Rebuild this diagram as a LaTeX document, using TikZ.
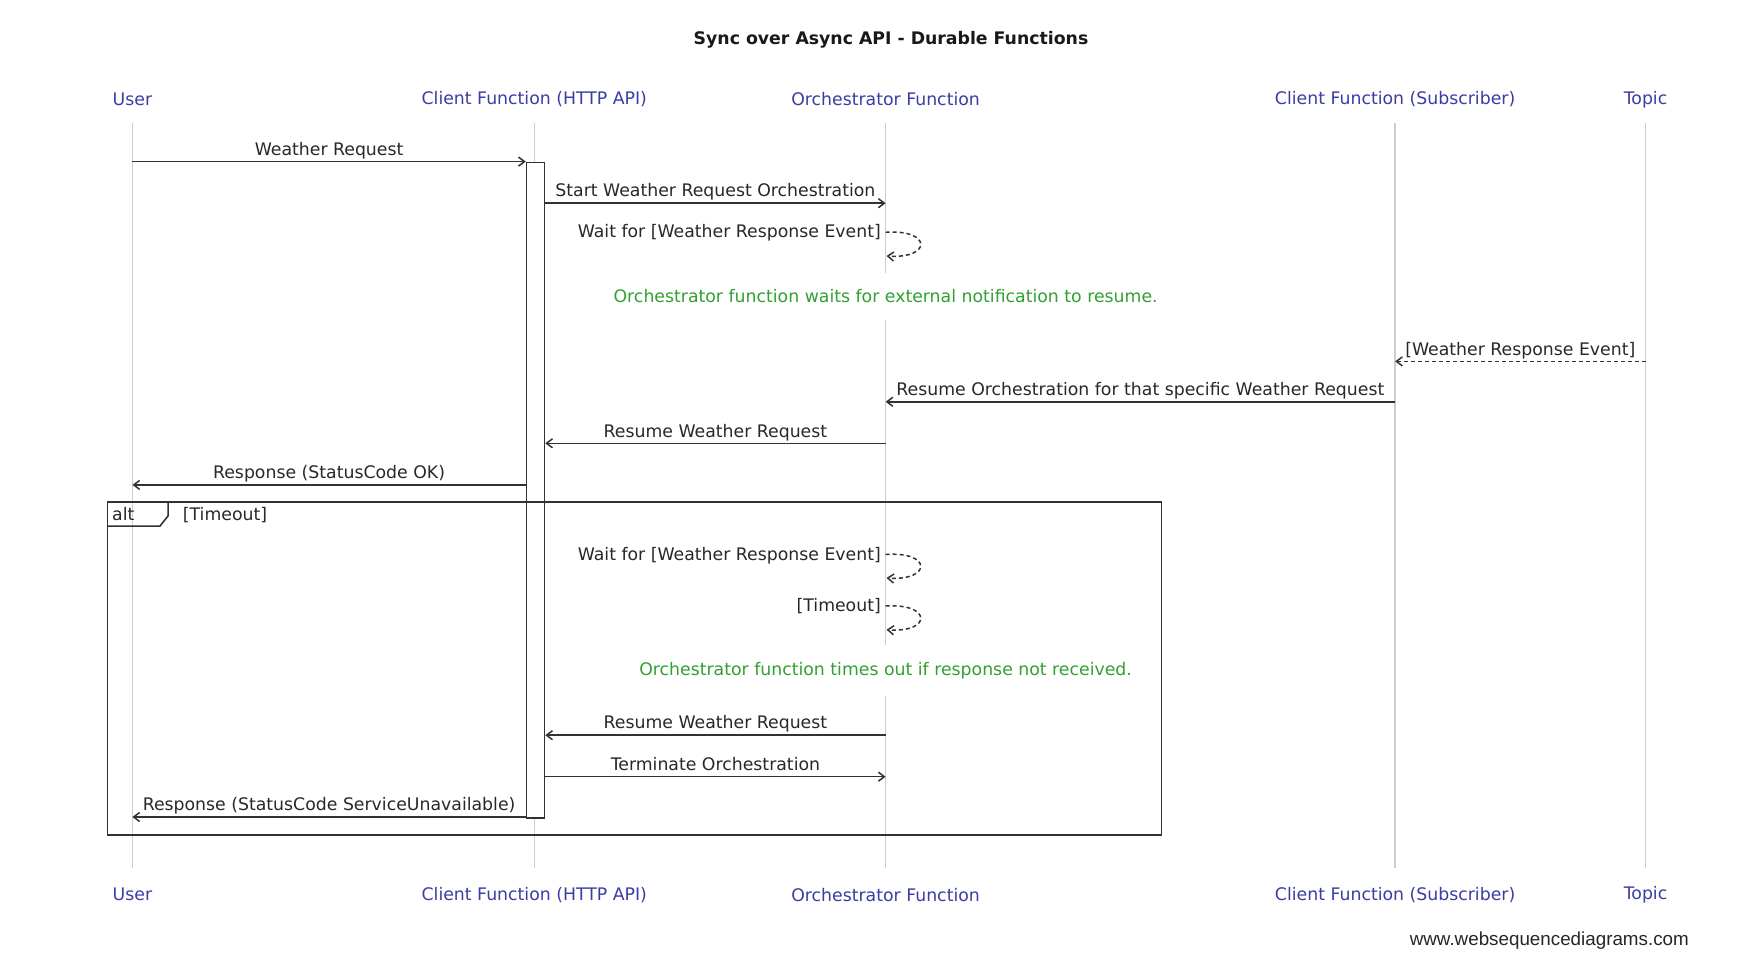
\documentclass[tikz,border=0pt]{standalone}
\usepackage{fontspec}
\setmainfont{DejaVu Sans}
\newfontfamily\footfont{Liberation Sans}
\usetikzlibrary{arrows.meta}
\definecolor{part}{RGB}{60,60,165}
\definecolor{life}{RGB}{205,205,205}
\definecolor{ln}{RGB}{50,50,50}
\definecolor{notegreen}{RGB}{50,160,50}
\definecolor{txt}{RGB}{40,40,40}
\begin{document}
\begin{tikzpicture}[x=1pt,y=-1pt,
  lbl/.style={font=\fontsize{17.3}{20}\selectfont, text=txt, inner sep=0pt, text height=12.5pt, text depth=3.5pt},
  partlbl/.style={font=\fontsize{17.3}{20}\selectfont, text=part, inner sep=0pt},
  lifeline/.style={draw=life, line width=1.3pt},
  msg/.style={draw=ln, line width=1.5pt, -{Straight Barb[length=6pt,width=9pt]}},
  dmsg/.style={msg, dash pattern=on 4pt off 3pt},
  notetext/.style={font=\fontsize{17.3}{20}\selectfont, text=notegreen, fill=white, inner xsep=12pt, inner ysep=0pt},
  framebox/.style={draw=ln, line width=1.5pt},
  mlabel/.style={lbl, midway, yshift=10.8pt}
]
\useasboundingbox[fill=white] (0,0) rectangle (1760,965);

% title
\node[font=\bfseries\fontsize{17.3}{20}\selectfont, text=black!90] (title) at (891,39.5) {Sync over Async API - Durable Functions};

% participants (top and bottom)
\foreach \n/\x/\t in {u/132.4/User, c/534.3/Client Function (HTTP API), o/885.6/Orchestrator Function, s/1395.1/Client Function (Subscriber), t/1645.5/Topic}{
  \node[partlbl] (\n top) at (\x,99.3) {\t};
  \node[partlbl] (\n bot) at (\x,894.7) {\t};
  \coordinate (\n1) at (\x,123.5);
  \coordinate (\n2) at (\x,867.6);
  \draw[lifeline] (\n1) -- (\n2);
}

% activation box of client function
\node[draw=ln, fill=white, line width=1.5pt, minimum width=18pt, minimum height=655.4pt, inner sep=0pt, anchor=north] (act) at (535.5,161.6) {};

% notes (white boxes hide the lifeline)
\node[notetext, minimum height=47pt] (n1) at (885.6,296.5) {Orchestrator function waits for external notification to resume.};
\node[notetext, minimum height=51pt] (n2) at (885.6,670.5) {Orchestrator function times out if response not received.};

% message anchor points
\coordinate (ma) at (132.4,161.6);
\coordinate (mb) at (885.6,203.2);
\coordinate (mc1) at (885.6,232.3);
\coordinate (mc2) at (886.5,256.0);
\coordinate (md1) at (1645.5,361.4);
\coordinate (md2) at (1395.1,361.4);
\coordinate (me1) at (1395.1,401.8);
\coordinate (me2) at (885.6,401.8);
\coordinate (mf) at (885.6,443.3);
\coordinate (mg) at (132.4,484.9);
\coordinate (mh1) at (885.6,554.5);
\coordinate (mh2) at (886.5,578.0);
\coordinate (mi1) at (885.6,606.0);
\coordinate (mi2) at (886.5,629.7);
\coordinate (mj) at (885.6,735.2);
\coordinate (mk) at (885.6,776.7);
\coordinate (ml) at (132.4,817.0);

% messages
\draw[msg] (ma) -- (act.west |- ma) node[mlabel] {Weather Request};
\draw[msg] (act.east |- mb) -- (mb) node[mlabel] {Start Weather Request Orchestration};
\draw[dmsg] (mc1) .. controls (932,229) and (932,259) .. (mc2);
\node[lbl, anchor=east] (lc) at (881,233.5) {Wait for [Weather Response Event]};
\draw[dmsg] (md1) -- (md2) node[mlabel] {[Weather Response Event]};
\draw[msg] (me1) -- (me2) node[mlabel] {Resume Orchestration for that specific Weather Request};
\draw[msg] (mf) -- (act.east |- mf) node[mlabel] {Resume Weather Request};
\draw[msg] (act.west |- mg) -- (mg) node[mlabel] {Response (StatusCode OK)};

% alt frame
\draw[framebox] (107.7,502) rectangle (1161.7,835);
\draw[framebox] (107.7,526) -- (160,526) -- (168,516) -- (168,502);
\node[lbl, anchor=west] (altl) at (112,515.5) {alt};
\node[lbl, anchor=west] (altc) at (182.7,515.5) {[Timeout]};

\draw[dmsg] (mh1) .. controls (932,551) and (932,581) .. (mh2);
\node[lbl, anchor=east] (lh) at (881,555.7) {Wait for [Weather Response Event]};
\draw[dmsg] (mi1) .. controls (932,603) and (932,633) .. (mi2);
\node[lbl, anchor=east] (li) at (881,607.2) {[Timeout]};
\draw[msg] (mj) -- (act.east |- mj) node[mlabel] {Resume Weather Request};
\draw[msg] (act.east |- mk) -- (mk) node[mlabel] {Terminate Orchestration};
\draw[msg] (act.west |- ml) -- (ml) node[mlabel] {Response (StatusCode ServiceUnavailable)};

% footer
\node[anchor=east, font=\footfont\fontsize{18.8}{22}\selectfont, text=black!85, inner sep=0pt] (foot) at (1689,940.6) {www.websequencediagrams.com};
\end{tikzpicture}
\end{document}
